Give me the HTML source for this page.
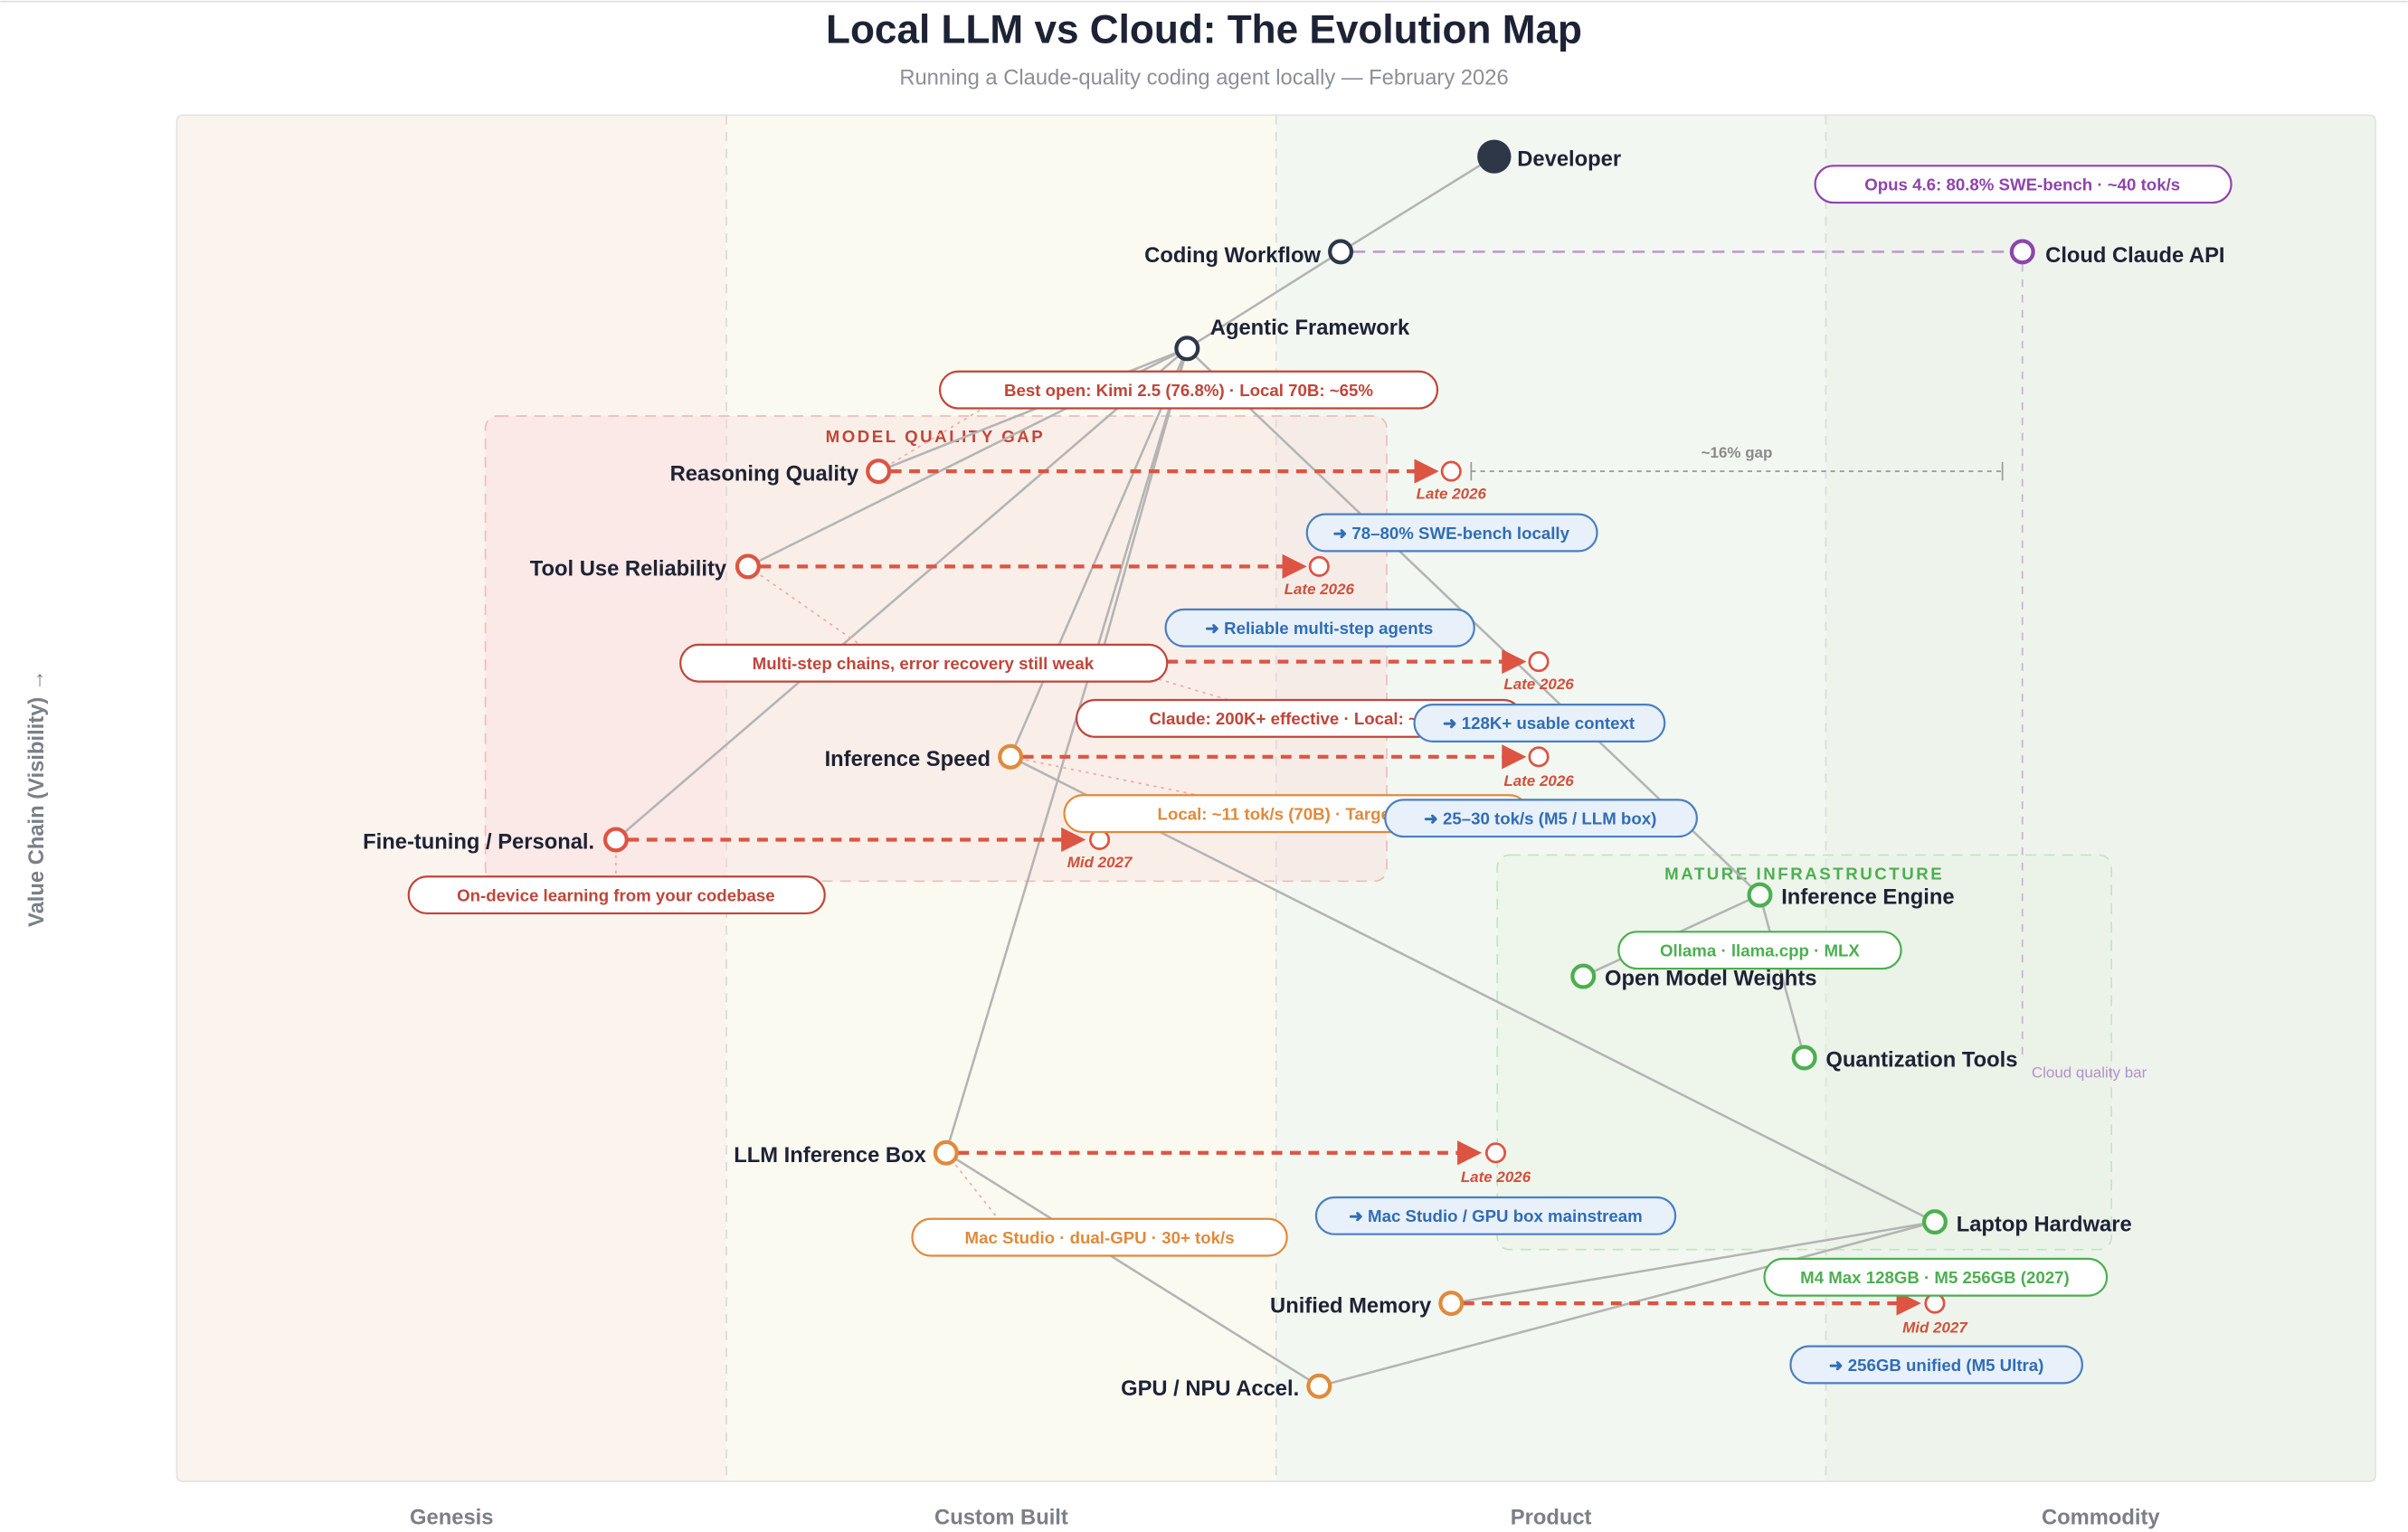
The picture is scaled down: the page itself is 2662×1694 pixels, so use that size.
<!DOCTYPE html>
<html><head><meta charset="utf-8"><style>
html,body{margin:0;padding:0;background:#fff}
svg{display:block}
text{font-family:"Liberation Sans",sans-serif}
.nl{font-size:14px;font-weight:600;fill:#1e2235}
.pl{font-size:11px;font-weight:600;text-anchor:middle}
.dt{font-size:10px;font-style:italic;font-weight:600;fill:#d0503c;text-anchor:middle}
.e{stroke:#b4b4b4;stroke-width:1.5;fill:none}
.rd{stroke:#dd5443;stroke-width:2.5;stroke-dasharray:7 5;fill:none}
</style></head><body>
<svg width="2662" height="1694" viewBox="0 0 1568 998" xmlns="http://www.w3.org/2000/svg">
<line x1="0" y1="1" x2="1568" y2="1" stroke="#ddd"/>
<text x="784" y="28" text-anchor="middle" font-size="26" font-weight="700" fill="#1e2235">Local LLM vs Cloud: The Evolution Map</text>
<text x="784" y="55" text-anchor="middle" font-size="14" fill="#8a8f98">Running a Claude-quality coding agent locally — February 2026</text>

<!-- columns -->
<rect x="115" y="75" width="358" height="890" fill="#fbf3ee"/>
<rect x="473" y="75" width="358" height="890" fill="#fbfaf1"/>
<rect x="831" y="75" width="358" height="890" fill="#f3f7f1"/>
<rect x="1189" y="75" width="358" height="890" fill="#eef4ec"/>
<rect x="115" y="75" width="1432" height="890" rx="4" fill="none" stroke="#e3e3e3"/>
<g stroke="#dadada" stroke-dasharray="6 5"><line x1="473" y1="75" x2="473" y2="965"/><line x1="831" y1="75" x2="831" y2="965"/><line x1="1189" y1="75" x2="1189" y2="965"/></g>

<g font-size="14" font-weight="700" fill="#7a7f88" text-anchor="middle">
<text x="294" y="993">Genesis</text><text x="652" y="993">Custom Built</text><text x="1010" y="993">Product</text><text x="1368" y="993">Commodity</text>
<text transform="translate(28,520) rotate(-90)">Value Chain (Visibility) →</text></g>

<!-- groups -->
<rect x="316" y="271" width="587" height="303" rx="8" fill="#f9d7d7" fill-opacity="0.35" stroke="#efbcbc" stroke-dasharray="7 5"/>
<text x="609" y="288" text-anchor="middle" font-size="11" font-weight="700" fill="#c0453a" letter-spacing="1.5">MODEL QUALITY GAP</text>
<rect x="975" y="557" width="400" height="257" rx="8" fill="#e6f3e3" fill-opacity="0.4" stroke="#c4e2c4" stroke-dasharray="7 5"/>
<text x="1175" y="573" text-anchor="middle" font-size="11" font-weight="700" fill="#4caf50" letter-spacing="1.5">MATURE INFRASTRUCTURE</text>

<!-- cloud bar -->
<line x1="1317" y1="172" x2="1317" y2="690" stroke="#c9b0d6" stroke-dasharray="5 5"/>
<text x="1323" y="702" font-size="10" fill="#b58fcc">Cloud quality bar</text>
<line x1="881" y1="164" x2="1309" y2="164" stroke="#c39bd3" stroke-width="1.6" stroke-dasharray="8 5"/>

<!-- edges -->
<g class="e">
<line x1="973" y1="102" x2="873" y2="164"/><line x1="873" y1="164" x2="773" y2="227"/>
<line x1="773" y1="227" x2="572" y2="307"/><line x1="773" y1="227" x2="487" y2="369"/>
<line x1="773" y1="227" x2="401" y2="547"/><line x1="773" y1="227" x2="658" y2="493"/>
<line x1="773" y1="227" x2="616" y2="751"/><line x1="773" y1="227" x2="716" y2="431"/>
<line x1="773" y1="227" x2="1146" y2="583"/>
<line x1="658" y1="493" x2="1260" y2="796"/><line x1="616" y1="751" x2="859" y2="903"/>
<line x1="1146" y1="583" x2="1031" y2="636"/><line x1="1146" y1="583" x2="1175" y2="689"/>
<line x1="1260" y1="796" x2="945" y2="849"/><line x1="1260" y1="796" x2="859" y2="903"/>
</g>
<g stroke="#eaa" stroke-width="1" stroke-dasharray="2 3" fill="none">
<line x1="572" y1="307" x2="640" y2="266"/><line x1="487" y1="369" x2="560" y2="420"/>
<line x1="716" y1="431" x2="800" y2="456"/><line x1="658" y1="493" x2="780" y2="518"/>
<line x1="401" y1="547" x2="401" y2="571"/><line x1="616" y1="751" x2="650" y2="794"/>
</g>

<!-- gap -->
<g stroke="#9a9a9a" stroke-width="1"><line x1="958" y1="307" x2="1304" y2="307" stroke-dasharray="3 3"/><line x1="958" y1="301" x2="958" y2="313"/><line x1="1304" y1="301" x2="1304" y2="313"/></g>
<text x="1131" y="298" text-anchor="middle" font-size="10" font-weight="600" fill="#8a8a8a">~16% gap</text>

<!-- evolution arrows -->
<g class="rd">
<line x1="580" y1="307" x2="925" y2="307"/><line x1="495" y1="369" x2="838" y2="369"/>
<line x1="724" y1="431" x2="982" y2="431"/><line x1="666" y1="493" x2="982" y2="493"/>
<line x1="409" y1="547" x2="695" y2="547"/><line x1="624" y1="751" x2="953" y2="751"/>
<line x1="953" y1="849" x2="1238" y2="849"/>
</g>
<g fill="#dd5443">
<polygon points="921,299 937,307 921,315"/><polygon points="835,361 851,369 835,377"/>
<polygon points="978,423 994,431 978,439"/><polygon points="978,485 994,493 978,501"/>
<polygon points="691,539 707,547 691,555"/><polygon points="949,743 965,751 949,759"/>
<polygon points="1235,841 1251,849 1235,857"/>
</g>
<g fill="#fff" stroke="#dd5443" stroke-width="1.6">
<circle cx="945" cy="307" r="6"/><circle cx="859" cy="369" r="6"/><circle cx="1002" cy="431" r="6"/>
<circle cx="1002" cy="493" r="6"/><circle cx="716" cy="547" r="6"/><circle cx="974" cy="751" r="6"/><circle cx="1260" cy="849" r="6"/>
</g>
<text class="dt" x="945" y="325">Late 2026</text><text class="dt" x="859" y="387">Late 2026</text>
<text class="dt" x="1002" y="449">Late 2026</text><text class="dt" x="1002" y="512">Late 2026</text>
<text class="dt" x="716" y="565">Mid 2027</text><text class="dt" x="974" y="770">Late 2026</text>
<text class="dt" x="1260" y="868">Mid 2027</text>

<!-- nodes -->
<circle cx="973" cy="102" r="11" fill="#2d3748"/>
<g fill="#fff" stroke-width="2.5">
<circle cx="873" cy="164" r="7" stroke="#2d3748"/><circle cx="773" cy="227" r="7" stroke="#2d3748"/>
<circle cx="1317" cy="164" r="7" stroke="#8e44ad"/>
<circle cx="572" cy="307" r="7" stroke="#dd5443"/><circle cx="487" cy="369" r="7" stroke="#dd5443"/>
<circle cx="716" cy="431" r="7" stroke="#dd5443"/><circle cx="401" cy="547" r="7" stroke="#dd5443"/>
<circle cx="658" cy="493" r="7" stroke="#e08a3c"/><circle cx="616" cy="751" r="7" stroke="#e08a3c"/>
<circle cx="945" cy="849" r="7" stroke="#e08a3c"/><circle cx="859" cy="903" r="7" stroke="#e08a3c"/>
<circle cx="1146" cy="583" r="7" stroke="#4caf50"/><circle cx="1031" cy="636" r="7" stroke="#4caf50"/>
<circle cx="1175" cy="689" r="7" stroke="#4caf50"/><circle cx="1260" cy="796" r="7" stroke="#4caf50"/>
</g>
<text class="nl" x="988" y="108">Developer</text>
<text class="nl" x="860" y="171" text-anchor="end">Coding Workflow</text>
<text class="nl" x="788" y="218">Agentic Framework</text>
<text class="nl" x="1332" y="171">Cloud Claude API</text>
<text class="nl" x="559" y="313" text-anchor="end">Reasoning Quality</text>
<text class="nl" x="473" y="375" text-anchor="end">Tool Use Reliability</text>
<text class="nl" x="703" y="437" text-anchor="end">Context Window</text>
<text class="nl" x="645" y="499" text-anchor="end">Inference Speed</text>
<text class="nl" x="387" y="553" text-anchor="end">Fine-tuning / Personal.</text>
<text class="nl" x="603" y="757" text-anchor="end">LLM Inference Box</text>
<text class="nl" x="932" y="855" text-anchor="end">Unified Memory</text>
<text class="nl" x="846" y="909" text-anchor="end">GPU / NPU Accel.</text>
<text class="nl" x="1160" y="589">Inference Engine</text>
<text class="nl" x="1045" y="642">Open Model Weights</text>
<text class="nl" x="1189" y="695">Quantization Tools</text>
<text class="nl" x="1274" y="802">Laptop Hardware</text>

<!-- pills -->
<g stroke-width="1.3">
<rect x="1182" y="108" width="271" height="24" rx="12" fill="#fff" stroke="#8e44ad"/>
<rect x="612" y="242" width="324" height="24" rx="12" fill="#fff" stroke="#c0453a"/>
<rect x="851" y="335" width="189" height="24" rx="12" fill="#e8f0fa" stroke="#4a7fc1"/>
<rect x="759" y="397" width="201" height="24" rx="12" fill="#e8f0fa" stroke="#4a7fc1"/>
<rect x="443" y="420" width="317" height="24" rx="12" fill="#fff" stroke="#c0453a"/>
<rect x="701" y="456" width="290" height="24" rx="12" fill="#fff" stroke="#c0453a"/>
<rect x="693" y="518" width="302" height="24" rx="12" fill="#fff" stroke="#e08a3c"/>
<rect x="266" y="571" width="271" height="24" rx="12" fill="#fff" stroke="#c0453a"/>
<rect x="1054" y="607" width="184" height="24" rx="12" fill="#fff" stroke="#4caf50"/>
<rect x="594" y="794" width="244" height="24" rx="12" fill="#fff" stroke="#e08a3c"/>
<rect x="857" y="780" width="234" height="24" rx="12" fill="#e8f0fa" stroke="#4a7fc1"/>
<rect x="1149" y="820" width="223" height="24" rx="12" fill="#fff" stroke="#4caf50"/>
<rect x="1166" y="877" width="190" height="24" rx="12" fill="#e8f0fa" stroke="#4a7fc1"/>
</g>
<text class="pl" x="1317" y="124" fill="#8e44ad">Opus 4.6: 80.8% SWE-bench · ~40 tok/s</text>
<text class="pl" x="774" y="258" fill="#c0453a">Best open: Kimi 2.5 (76.8%) · Local 70B: ~65%</text>
<text class="pl" x="945" y="351" fill="#2f6db5">➜ 78–80% SWE-bench locally</text>
<text class="pl" x="859" y="413" fill="#2f6db5">➜ Reliable multi-step agents</text>
<text class="pl" x="601" y="436" fill="#c0453a">Multi-step chains, error recovery still weak</text>
<text class="pl" x="846" y="472" fill="#c0453a">Claude: 200K+ effective · Local: ~32K</text>
<text class="pl" x="844" y="534" fill="#e08a3c">Local: ~11 tok/s (70B) · Target: 25+</text>
<text class="pl" x="401" y="587" fill="#c0453a">On-device learning from your codebase</text>
<text class="pl" x="1146" y="623" fill="#4caf50">Ollama · llama.cpp · MLX</text>
<text class="pl" x="716" y="810" fill="#e08a3c">Mac Studio · dual-GPU · 30+ tok/s</text>
<text class="pl" x="974" y="796" fill="#2f6db5">➜ Mac Studio / GPU box mainstream</text>
<text class="pl" x="1260" y="836" fill="#4caf50">M4 Max 128GB · M5 256GB (2027)</text>
<text class="pl" x="1261" y="893" fill="#2f6db5">➜ 256GB unified (M5 Ultra)</text>
<!-- overlapping blue pills on top -->
<rect x="921" y="459" width="163" height="24" rx="12" fill="#e8f0fa" stroke="#4a7fc1" stroke-width="1.3"/>
<text class="pl" x="1002" y="475" fill="#2f6db5">➜ 128K+ usable context</text>
<rect x="902" y="521" width="203" height="24" rx="12" fill="#e8f0fa" stroke="#4a7fc1" stroke-width="1.3"/>
<text class="pl" x="1003" y="537" fill="#2f6db5">➜ 25–30 tok/s (M5 / LLM box)</text>
</svg>
</body></html>
